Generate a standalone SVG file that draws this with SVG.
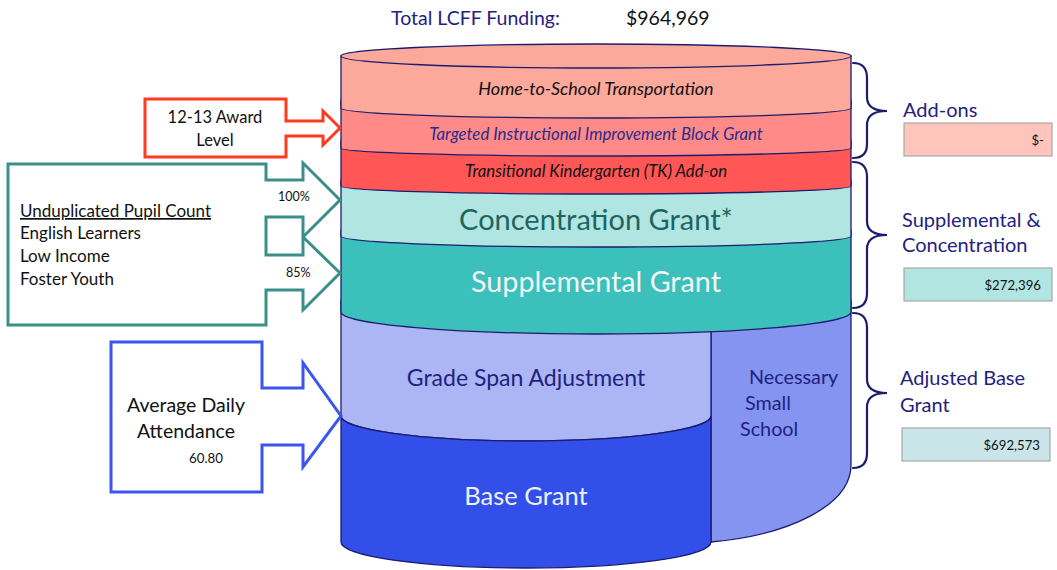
<svg xmlns="http://www.w3.org/2000/svg" width="1057" height="570" viewBox="0 0 1057 570">
<style>
text{font-family:Lato,"Open Sans","Liberation Sans",sans-serif}
.ol{stroke:#1c1c6e;stroke-width:1.3}
.br{fill:none;stroke:#1c1c6e;stroke-width:2.2;stroke-linecap:round}
.nv{fill:#1f2280}
.it{font-style:italic}
.box{stroke:#a8a8a8;stroke-width:1.2}
</style>
<rect width="1057" height="570" fill="#fff"/>
<text x="391" y="25" class="nv" font-size="19.5">Total LCFF Funding:</text>
<text x="626" y="25" fill="#111" font-size="19.5">$964,969</text>

<g id="cylinder">
<g id="nss"><path class="ol" fill="#8594f1" d="M711,300 H851 V465 C851,505 790,535 711,542 Z"/>
<text x="749" y="384" class="nv" font-size="19.8">Necessary</text>
<text x="745" y="410" class="nv" font-size="19.8">Small</text>
<text x="740" y="436" class="nv" font-size="19.8">School</text></g>
<g id="gsa"><path class="ol" fill="#adb6f5" d="M341,300 H711 V416 A185 25 0 0 1 341 416 Z"/>
<text x="526" y="386" text-anchor="middle" class="nv" font-size="23">Grade Span Adjustment</text></g>
<g id="base"><path class="ol" fill="#324fea" d="M341,416 A185 25 0 0 0 711 416 V542 A185 26 0 0 1 341 542 Z"/>
<text x="526" y="505" text-anchor="middle" fill="#eef0ff" font-size="25.5">Base Grant</text></g>
<g id="supplemental"><path class="ol" fill="#3cc0bb" d="M341,230 H851 V312 A255 22 0 0 1 341 312 Z"/>
<text x="596" y="292" text-anchor="middle" fill="#f2f5f5" font-size="28.7">Supplemental Grant</text></g>
<g id="concentration"><path class="ol" fill="#b1e5e2" d="M341,180 H851 V236 A255 11 0 0 1 341 236 Z"/>
<text x="596" y="230" text-anchor="middle" fill="#1f6460" font-size="29">Concentration Grant*</text></g>
<g id="tk"><path class="ol" fill="#ff5656" d="M341,140 H851 V186 A255 8 0 0 1 341 186 Z"/>
<text x="596" y="177" text-anchor="middle" class="it" fill="#111" font-size="16.8">Transitional Kindergarten (TK) Add-on</text></g>
<g id="tiibg"><path class="ol" fill="#ff8a87" d="M341,100 H851 V148 A255 8 0 0 1 341 148 Z"/>
<text x="596" y="140" text-anchor="middle" class="it" fill="#2b2b8c" font-size="16.8">Targeted Instructional Improvement Block Grant</text></g>
<g id="hts"><path class="ol" fill="#fca99b" d="M341,56 H851 V108 A255 10 0 0 1 341 108 Z"/>
<ellipse class="ol" fill="#fca99b" cx="596" cy="56" rx="255" ry="12"/>
<text x="596" y="95" text-anchor="middle" class="it" fill="#111" font-size="18">Home-to-School Transportation</text></g>
</g>

<g id="award">
<polygon fill="#fff" stroke="#ff3a1e" stroke-width="3" stroke-linejoin="miter" points="145,99 286,99 286,121 323,121 323,111 340,128 323,145 323,136 286,136 286,157 145,157"/>
<text x="215" y="123" text-anchor="middle" fill="#111" font-size="16.5">12-13 Award</text>
<text x="215" y="146" text-anchor="middle" fill="#111" font-size="16.5">Level</text>
</g>

<g id="pupils">
<polygon fill="#fff" stroke="#3a8f89" stroke-width="3" points="8,164 266,164 266,180 303,180 303,163 340,200 303,237 303,217 266,217 266,255 303,255 303,237 340,273 303,310 303,290 266,290 266,325 8,325"/>
<text x="20" y="217" fill="#111" font-size="17" text-decoration="underline">Unduplicated Pupil Count</text>
<text x="20" y="239" fill="#111" font-size="17">English Learners</text>
<text x="20" y="262" fill="#111" font-size="17">Low Income</text>
<text x="20" y="285" fill="#111" font-size="17">Foster Youth</text>
<text x="278" y="201" fill="#111" font-size="12.5">100%</text>
<text x="286" y="277" fill="#111" font-size="12.5">85%</text>
</g>

<g id="ada">
<polygon fill="#fff" stroke="#3b55ee" stroke-width="3" points="111,342 262,342 262,388 303,388 303,363 341,416 303,467 303,445 262,445 262,492 111,492"/>
<text x="186" y="412" text-anchor="middle" fill="#111" font-size="19.5">Average Daily</text>
<text x="186" y="438" text-anchor="middle" fill="#111" font-size="19.5">Attendance</text>
<text x="189" y="463" fill="#111" font-size="13.3">60.80</text>
</g>

<g id="connectors">
<path class="br" d="M853,63 Q867,63 867,78 V97 Q867,111 887,111 Q867,111 867,125 V144 Q867,158 853,158"/>
<path class="br" d="M853,162 Q867,162 867,177 V221 Q867,235 887,235 Q867,235 867,249 V293 Q867,308 853,308"/>
<path class="br" d="M853,313 Q867,313 867,328 V379 Q867,393 887,393 Q867,393 867,407 V453 Q867,468 853,468"/>
</g>

<g id="addons">
<text x="903" y="117" class="nv" font-size="20">Add-ons</text>
<rect class="box" x="904" y="123" width="148" height="33" fill="#ffc5bc"/>
<text x="1044" y="145" text-anchor="end" fill="#111" font-size="13.2">$-</text>
</g>
<g id="suppconc">
<text x="902" y="227" class="nv" font-size="20">Supplemental &amp;</text>
<text x="902" y="252" class="nv" font-size="20">Concentration</text>
<rect class="box" x="904" y="268" width="148" height="33" fill="#b1e5e2"/>
<text x="1041" y="290" text-anchor="end" fill="#111" font-size="13.2">$272,396</text>
</g>
<g id="adjbase">
<text x="900" y="385" class="nv" font-size="20">Adjusted Base</text>
<text x="900" y="412" class="nv" font-size="20">Grant</text>
<rect class="box" x="902" y="428" width="148" height="33" fill="#c9e5ea"/>
<text x="1040" y="450" text-anchor="end" fill="#111" font-size="13.2">$692,573</text>
</g>
</svg>
